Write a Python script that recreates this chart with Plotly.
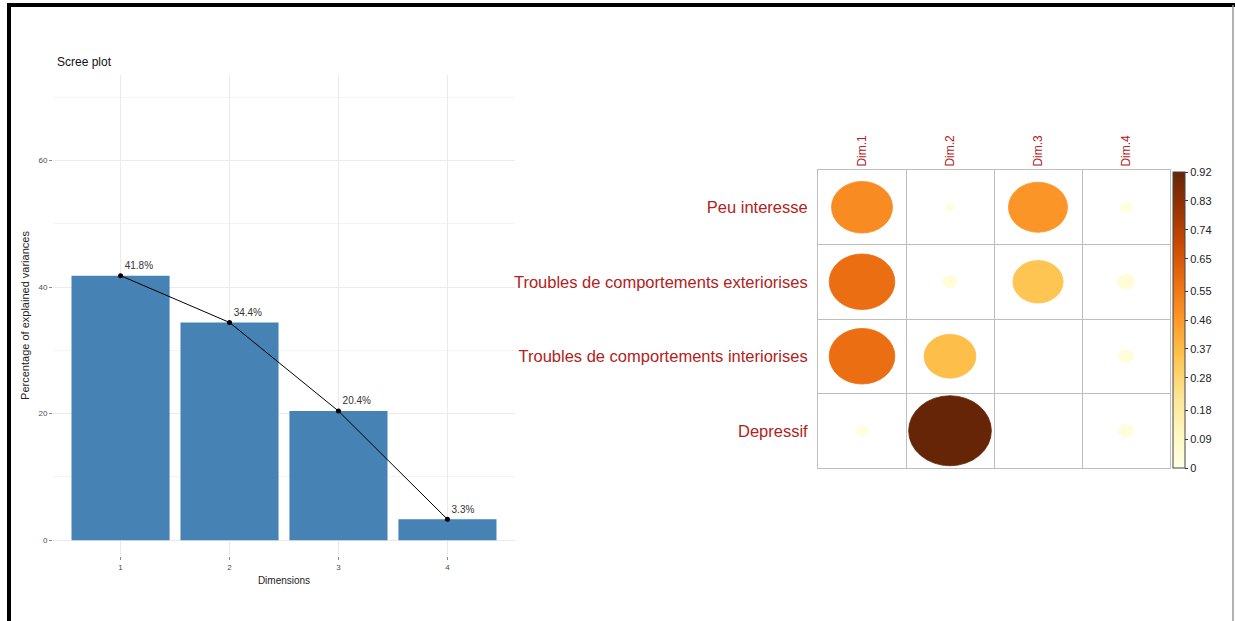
import plotly.graph_objects as go
from plotly.colors import sample_colorscale

# ---------------- data ----------------
dimensions = [1, 2, 3, 4]
dim_tick_labels = ["1", "2", "3", "4"]
explained_variance = [41.8, 34.4, 20.4, 3.3]

variables = ["Peu interesse",
             "Troubles de comportements exteriorises",
             "Troubles de comportements interiorises",
             "Depressif"]
dim_names = ["Dim.1", "Dim.2", "Dim.3", "Dim.4"]
cos2_peu_interesse = [0.50, 0.01, 0.47, 0.02]
cos2_troubles_ext = [0.58, 0.03, 0.34, 0.04]
cos2_troubles_int = [0.58, 0.36, 0.00, 0.03]
cos2_depressif = [0.02, 0.92, 0.00, 0.03]
colorbar_ticks = [0, 0.09, 0.18, 0.28, 0.37, 0.46, 0.55, 0.65, 0.74, 0.83, 0.92]
colorbar_labels = ["0", "0.09", "0.18", "0.28", "0.37", "0.46", "0.55", "0.65", "0.74", "0.83", "0.92"]

cos2 = [cos2_peu_interesse, cos2_troubles_ext, cos2_troubles_int, cos2_depressif]
vmax = 0.92
scale = "YlOrBr"
FONT = "Liberation Sans, Arial, sans-serif"
W, H = 1235, 621

fig = go.Figure()

# ---------------- scree plot ----------------
fig.add_trace(go.Bar(x=dimensions, y=explained_variance, width=0.9,
                     marker=dict(color="#4682B4", line=dict(width=0)),
                     xaxis="x", yaxis="y", showlegend=False))
fig.add_trace(go.Scatter(x=dimensions, y=explained_variance, mode="lines+markers+text",
                         line=dict(color="black", width=1),
                         marker=dict(color="black", size=5),
                         text=[f"{v}%" for v in explained_variance],
                         textposition="top right",
                         textfont=dict(size=10, color="#333333", family=FONT),
                         xaxis="x", yaxis="y", showlegend=False))

# ---------------- correlation-style plot ----------------
for i, row in enumerate(cos2):
    for j, v in enumerate(row):
        if v <= 0:
            continue
        r = 0.47 * (v / vmax) ** 0.5
        col = sample_colorscale(scale, [v / vmax])[0]
        cx, cy = j + 1, i + 1
        fig.add_shape(type="circle", xref="x2", yref="y2",
                      x0=cx - r, x1=cx + r, y0=cy - r, y1=cy + r,
                      fillcolor=col, line=dict(color=col, width=0.8), layer="above")

# invisible trace carrying the colour bar
fig.add_trace(go.Scatter(
    x=[j + 1 for i in range(4) for j in range(4)],
    y=[i + 1 for i in range(4) for j in range(4)],
    mode="markers", xaxis="x2", yaxis="y2", showlegend=False, hoverinfo="skip",
    marker=dict(size=1, opacity=0, color=[v for row in cos2 for v in row],
                colorscale=scale, cmin=0, cmax=vmax, showscale=True,
                colorbar=dict(x=1173 / W, xanchor="left", xpad=0, ypad=0,
                              y=1 - 320 / H, yanchor="middle",
                              len=296 / H, lenmode="fraction", thickness=12,
                              outlinewidth=1, outlinecolor="#444444",
                              tickvals=colorbar_ticks, ticktext=colorbar_labels,
                              ticks="outside", ticklen=3, tickcolor="#333333",
                              tickfont=dict(size=11, color="#222222", family=FONT)))))

grid = "#EBEBEB"
fig.update_layout(
    width=W, height=H, margin=dict(l=0, r=0, t=0, b=0),
    paper_bgcolor="white", plot_bgcolor="white",
    font=dict(family=FONT),
    xaxis=dict(domain=[53 / W, 515 / W], range=[0.38, 4.62],
               tickvals=dimensions, ticktext=dim_tick_labels,
               showgrid=True, gridcolor=grid, gridwidth=1, zeroline=False,
               ticks="outside", ticklen=3, tickcolor="#888888",
               tickfont=dict(size=8, color="#4D4D4D"),
               title=dict(text="Dimensions", font=dict(size=10, color="#222222"), standoff=6)),
    yaxis=dict(domain=[1 - 556 / H, 1 - 75 / H], range=[-2.5, 73.5],
               tickvals=[0, 20, 40, 60], ticktext=["0", "20", "40", "60"],
               showgrid=True, gridcolor=grid, gridwidth=1, zeroline=False,
               minor=dict(dtick=10, tick0=0, showgrid=True, gridcolor="#F3F3F3"),
               ticks="outside", ticklen=3, tickcolor="#888888",
               tickfont=dict(size=8, color="#4D4D4D"),
               title=dict(text="Percentage of explained variances",
                          font=dict(size=11, color="#222222"), standoff=6)),
    xaxis2=dict(domain=[818 / W, 1170 / W], range=[0.5, 4.5], side="top",
                anchor="y2", tickvals=[1, 2, 3, 4], ticktext=dim_names, tickangle=-90,
                tickfont=dict(size=12, color="#B22222"), ticks="",
                showgrid=False, zeroline=False,
                showline=True, mirror=True, linecolor="#BEBEBE", linewidth=1,
                minor=dict(tickvals=[1.5, 2.5, 3.5], showgrid=True, gridcolor="#BEBEBE", gridwidth=1)),
    yaxis2=dict(domain=[1 - 468 / H, 1 - 170 / H], range=[4.5, 0.5], anchor="x2",
                tickvals=[1, 2, 3, 4], ticktext=variables,
                tickfont=dict(size=16.5, color="#B22222"), ticks="", ticklabelstandoff=6,
                showgrid=False, zeroline=False,
                showline=True, mirror=True, linecolor="#BEBEBE", linewidth=1,
                minor=dict(tickvals=[1.5, 2.5, 3.5], showgrid=True, gridcolor="#BEBEBE", gridwidth=1)),
    annotations=[dict(text="Scree plot", x=55 / W, y=1 - 62 / H, xref="paper", yref="paper",
                      xanchor="left", yanchor="middle", showarrow=False,
                      font=dict(size=12, color="#111111"))],
)

# image frame
fig.add_shape(type="line", xref="paper", yref="paper", x0=9 / W, x1=9 / W, y0=0, y1=1 - 3 / H,
              line=dict(color="black", width=4))
fig.add_shape(type="line", xref="paper", yref="paper", x0=7 / W, x1=1, y0=1 - 5 / H, y1=1 - 5 / H,
              line=dict(color="black", width=4))
fig.add_shape(type="line", xref="paper", yref="paper", x0=1233 / W, x1=1233 / W, y0=0, y1=1 - 5 / H,
              line=dict(color="#999999", width=1.5))

fig.write_html("out.html", config={"displayModeBar": False},
               post_script="document.body.style.margin='0';document.body.style.overflow='hidden';")
